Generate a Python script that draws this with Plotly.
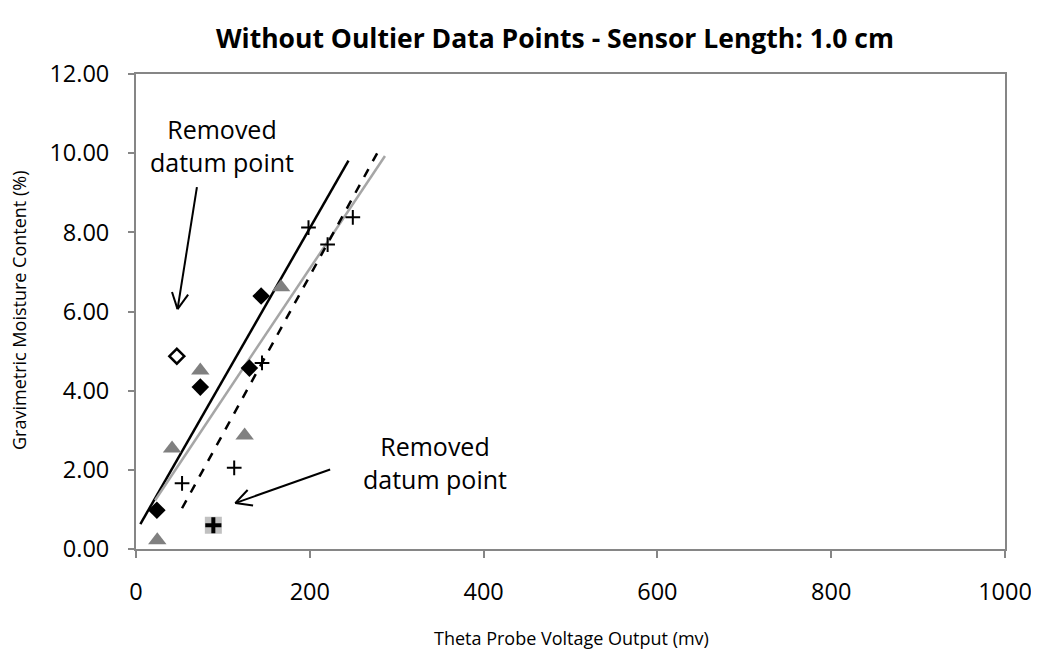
import numpy as np
import plotly.graph_objects as go

# ---- data ----
diamond_x = [24, 74, 130.5, 144]
diamond_y = [0.98, 4.09, 4.57, 6.39]
diamond_removed_x = [47]
diamond_removed_y = [4.87]

triangle_x = [24.5, 41.5, 74, 125, 167]
triangle_y = [0.22, 2.54, 4.51, 2.87, 6.61]

cross_x = [53, 113, 145, 198.5, 220.5, 249.5]
cross_y = [1.66, 2.05, 4.70, 8.12, 7.69, 8.38]
cross_removed_x = [89]
cross_removed_y = [0.60]

# trendline x extents (Excel forecast backward/forward)
diamond_trend_extent = [5, 244.5]
triangle_trend_extent = [22, 286.5]
cross_trend_extent = [53, 281]

x_ticks = [0, 200, 400, 600, 800, 1000]
y_ticks = [0, 2, 4, 6, 8, 10, 12]

title = "<b>Without Oultier Data Points - Sensor Length: 1.0 cm</b>"
x_title = "Theta Probe Voltage Output (mv)"
y_title = "Gravimetric Moisture Content (%)"
note_text = "Removed<br>datum point"
note1_tip, note1_tail, note1_pos = (47.8, 6.06), (70.1, 9.14), (98.9, 10.19)
note2_tip, note2_tail, note2_pos = (114.2, 1.16), (223.4, 2.01), (344.2, 2.19)

# ---- layout geometry (the page body adds an 8px offset) ----
OFF = 8
W, H = 1039 - OFF, 654 - OFF
ML, MR, MT, MB = 136 - OFF, 34, 74 - OFF, 105
X_RANGE = [0, 1000]
Y_RANGE = [0, 12]
pw, ph = W - ML - MR, H - MT - MB
sx = pw / (X_RANGE[1] - X_RANGE[0])
sy = ph / (Y_RANGE[1] - Y_RANGE[0])

FONT = "Open Sans, Lato, sans-serif"


def trend(xs, ys, extent):
    m, b = np.polyfit(xs, ys, 1)
    xe = np.array(extent, dtype=float)
    return xe, m * xe + b


fig = go.Figure()

for (xs, ys, ext, color, dash) in [
    (diamond_x, diamond_y, diamond_trend_extent, "#000000", "solid"),
    (triangle_x, triangle_y, triangle_trend_extent, "#a6a6a6", "solid"),
    (cross_x, cross_y, cross_trend_extent, "#000000", "dash"),
]:
    tx, ty = trend(xs, ys, ext)
    fig.add_trace(go.Scatter(x=tx, y=ty, mode="lines",
                             line=dict(color=color, width=2.5, dash=dash),
                             showlegend=False, hoverinfo="skip"))

fig.add_trace(go.Scatter(x=triangle_x, y=triangle_y, mode="markers",
                         marker=dict(symbol="triangle-up", size=16, color="#808080"),
                         showlegend=False))
fig.add_trace(go.Scatter(x=diamond_x, y=diamond_y, mode="markers",
                         marker=dict(symbol="diamond", size=13.5, color="#000000"),
                         showlegend=False))
fig.add_trace(go.Scatter(x=diamond_removed_x, y=diamond_removed_y, mode="markers",
                         marker=dict(symbol="diamond", size=11.5, color="#ffffff",
                                     line=dict(color="#000000", width=2.5)),
                         showlegend=False))
fig.add_trace(go.Scatter(x=cross_removed_x, y=cross_removed_y, mode="markers",
                         marker=dict(symbol="square", size=17, color="#c0c0c0"),
                         showlegend=False))
fig.add_trace(go.Scatter(x=cross_removed_x, y=cross_removed_y, mode="markers",
                         marker=dict(symbol="cross-thin", size=11.5,
                                     line=dict(color="#000000", width=4)),
                         showlegend=False))
fig.add_trace(go.Scatter(x=cross_x, y=cross_y, mode="markers",
                         marker=dict(symbol="cross-thin", size=10.5,
                                     line=dict(color="#000000", width=2)),
                         showlegend=False))

# arrows with open V heads
shapes = []
for tip, tail in [(note1_tip, note1_tail), (note2_tip, note2_tail)]:
    shapes.append(dict(type="line", xref="x", yref="y", x0=tail[0], y0=tail[1],
                       x1=tip[0], y1=tip[1], line=dict(color="#000000", width=2)))
    dx = (tip[0] - tail[0]) * sx
    dy = (tip[1] - tail[1]) * sy
    L = np.hypot(dx, dy)
    ux, uy = dx / L, dy / L
    arm = 18
    for ang in (np.radians(27), -np.radians(27)):
        c, s = np.cos(ang), np.sin(ang)
        bx = -(ux * c - uy * s) * arm
        by = -(ux * s + uy * c) * arm
        shapes.append(dict(type="line", xref="x", yref="y",
                           x0=tip[0], y0=tip[1],
                           x1=tip[0] + bx / sx, y1=tip[1] + by / sy,
                           line=dict(color="#000000", width=2)))

annotations = []
for pos in (note1_pos, note2_pos):
    annotations.append(dict(x=pos[0], y=pos[1], xref="x", yref="y", text=note_text,
                            showarrow=False, align="center",
                            font=dict(family=FONT, size=25, color="#000000")))


def paper_xy(page_x, page_y):
    fx, fy = page_x - OFF, page_y - OFF
    return (fx - ML) / pw, 1 - (fy - MT) / ph


xt_x, xt_y = paper_xy(571, 638)
yt_x, yt_y = paper_xy(19, 311)
annotations.append(dict(x=xt_x, y=xt_y, xref="paper", yref="paper",
                        xanchor="center", yanchor="middle", text=x_title, showarrow=False,
                        font=dict(family=FONT, size=18, color="#000000")))
annotations.append(dict(x=yt_x, y=yt_y, xref="paper", yref="paper",
                        xanchor="center", yanchor="middle", text=y_title, showarrow=False,
                        textangle=-90,
                        font=dict(family=FONT, size=18, color="#000000")))

axis_color = "#868686"
fig.update_layout(
    width=W, height=H,
    margin=dict(l=ML, r=MR, t=MT, b=MB, autoexpand=False),
    paper_bgcolor="#ffffff", plot_bgcolor="#ffffff",
    title=dict(text=title, x=(555 - OFF) / W, xanchor="center",
               y=1 - (39 - OFF) / H, yanchor="middle",
               font=dict(family=FONT, size=26.5, color="#000000")),
    shapes=shapes,
    annotations=annotations,
    xaxis=dict(range=X_RANGE, tickvals=x_ticks, ticktext=[str(v) for v in x_ticks],
               automargin=False, ticklabeloverflow="allow",
               showgrid=False, zeroline=False, showline=True, linecolor=axis_color,
               linewidth=2, mirror=True, ticks="outside", ticklen=7, tickcolor=axis_color,
               tickwidth=2, ticklabelstandoff=14,
               tickfont=dict(family=FONT, size=23.5, color="#000000")),
    yaxis=dict(range=Y_RANGE, tickvals=y_ticks, ticktext=[f"{v:.2f}" for v in y_ticks],
               automargin=False,
               showgrid=False, zeroline=False, showline=True, linecolor=axis_color,
               linewidth=2, mirror=True, ticks="outside", ticklen=6, tickcolor=axis_color,
               tickwidth=2, ticklabelstandoff=14,
               tickfont=dict(family=FONT, size=23.5, color="#000000")),
)

fig.write_html("out.html")
